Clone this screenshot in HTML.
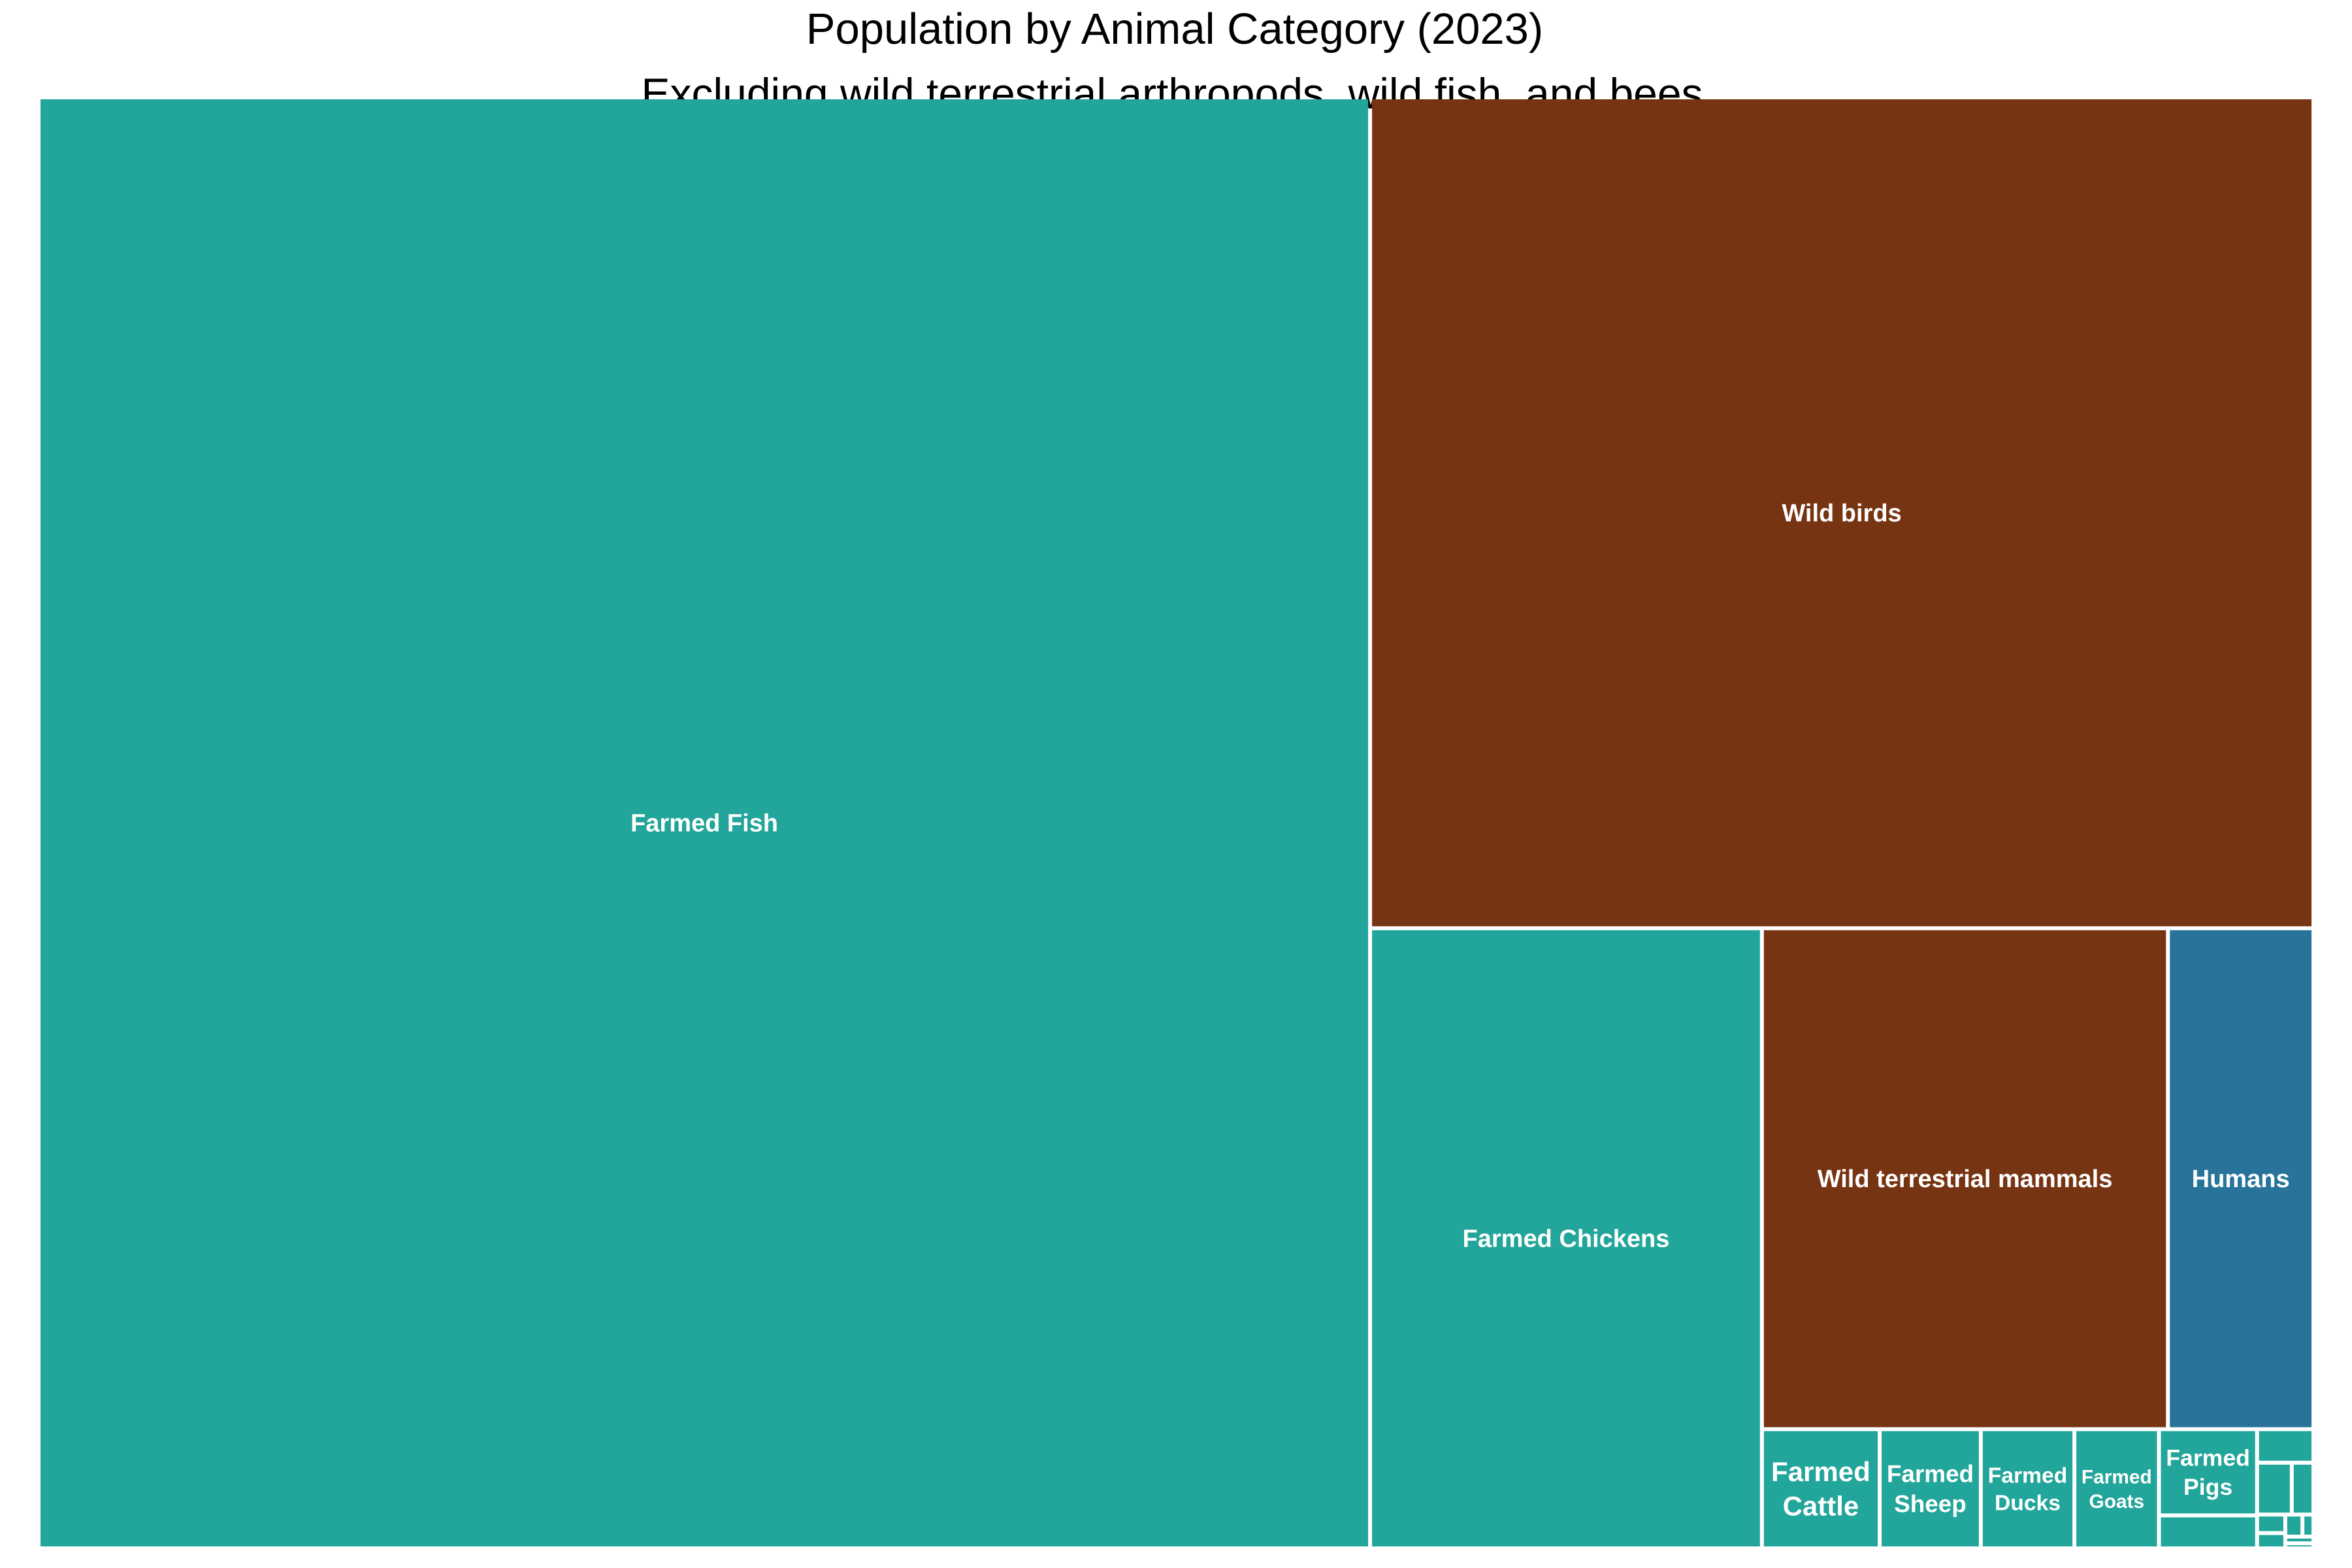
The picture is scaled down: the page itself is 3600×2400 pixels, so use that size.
<!DOCTYPE html>
<html><head><meta charset="utf-8">
<style>
html,body{margin:0;padding:0;background:#fff;}
svg{display:block;}
</style></head>
<body>
<svg id="chart" width="3600" height="2400" viewBox="0 0 3600 2400" xmlns="http://www.w3.org/2000/svg">
  <text x="1798" y="67" text-anchor="middle" font-family="Liberation Sans, Arial, sans-serif" font-size="67" fill="#000">Population by Animal Category (2023)</text>
  <text x="1794" y="166" text-anchor="middle" font-family="Liberation Sans, Arial, sans-serif" font-size="66" fill="#000">Excluding wild terrestrial arthropods, wild fish, and bees</text>
  <g id="tiles"></g>
</svg>
<script>
// Data (billions of individuals)
const categories = ["Farmed Fish","Wild birds","Farmed Chickens","Wild terrestrial mammals","Humans","Farmed Cattle","Farmed Sheep","Farmed Ducks","Farmed Goats","Farmed Pigs","Farmed Geese","Farmed Turkeys","Farmed Rabbits","Farmed Buffalo","Farmed Horses","Farmed Camels","Farmed Donkeys","Farmed Mules","Farmed Llamas","Farmed Deer"];
const values = [214.7,87.1,27.0,22.6,8.1,1.56,1.34,1.24,1.12,0.94,0.36,0.21,0.2,0.125,0.058,0.048,0.042,0.027,0.021,0.016];
const groups = ["farmed","wild","farmed","wild","human","farmed","farmed","farmed","farmed","farmed","farmed","farmed","farmed","farmed","farmed","farmed","farmed","farmed","farmed","farmed"];
// tiling plan: number of items placed in each successive squarified row
const rowCounts = [1,1,1,2,1,1,1,1,2,1,2,2,2,2];

const colorOf = {farmed:"#22a59a", wild:"#773413", human:"#277399"};
const X0=59, Y0=149, X1=3541, Y1=2370, GAP=3;

function layout(nodes, x0,y0,x1,y1){
  let value = nodes.reduce((a,n)=>a+n.value,0);
  let i0=0;
  for(const cnt of rowCounts){
    if(i0>=nodes.length) break;
    const row=nodes.slice(i0,i0+cnt);
    const sumValue=row.reduce((a,n)=>a+n.value,0);
    const dx=x1-x0, dy=y1-y0;
    if(dx<dy){
      const ny=y0+dy*sumValue/value;
      let x=x0;
      row.forEach(nd=>{const w=dx*nd.value/sumValue; nd.x0=x;nd.x1=x+w;nd.y0=y0;nd.y1=ny;x+=w;});
      y0=ny;
    } else {
      const nx=x0+dx*sumValue/value;
      let y=y0;
      row.forEach(nd=>{const h=dy*nd.value/sumValue; nd.y0=y;nd.y1=y+h;nd.x0=x0;nd.x1=nx;y+=h;});
      x0=nx;
    }
    value-=sumValue; i0+=cnt;
  }
}

const nodes = categories.map((c,i)=>({name:c,value:values[i],group:groups[i]}));
nodes.sort((a,b)=>b.value-a.value);
layout(nodes,X0,Y0,X1,Y1);

const NS="http://www.w3.org/2000/svg";
const g=document.getElementById('tiles');
nodes.forEach(nd=>{
  if(nd.x0===undefined) return;
  const x=nd.x0+GAP, y=nd.y0+GAP, w=Math.max(0,nd.x1-nd.x0-2*GAP), h=Math.max(0,nd.y1-nd.y0-2*GAP);
  const r=document.createElementNS(NS,'rect');
  
  
  r.setAttribute('x',x);r.setAttribute('y',y);r.setAttribute('width',w);r.setAttribute('height',h);
  r.setAttribute('fill',colorOf[nd.group]);
  g.appendChild(r);
  if(w<100||h<80) return;
  const cx=x+w/2, cy=y+h/2;
  const singleW=nd.name.length*0.56*38;
  const t=document.createElementNS(NS,'text');
  
  
  t.setAttribute('text-anchor','middle');
  t.setAttribute('font-family','Liberation Sans, Arial, sans-serif');
  t.setAttribute('font-weight','bold');
  t.setAttribute('fill','#fff');
  if(singleW < w-20){
    t.setAttribute('font-size',38);
    t.setAttribute('x',cx);t.setAttribute('y',cy+13);
    t.textContent=nd.name;
  } else {
    const words=nd.name.split(' ');
    const fs=Math.min(42,(w-16)/3.6);
    t.setAttribute('font-size',fs);
    const lh=fs*1.25;
    const startY=cy-(words.length-1)*lh/2+fs*0.35;
    words.forEach((wd,k)=>{
      const ts=document.createElementNS(NS,'tspan');
      ts.setAttribute('x',cx);ts.setAttribute('y',startY+k*lh);
      ts.textContent=wd;
      t.appendChild(ts);
    });
  }
  g.appendChild(t);
});
</script>
</body></html>
